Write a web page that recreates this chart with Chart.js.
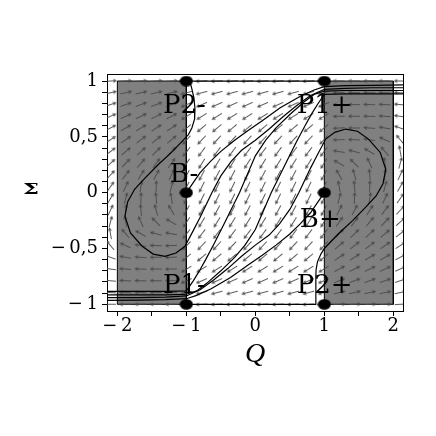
<!DOCTYPE html>
<html>
<head>
<meta charset="utf-8">
<script src="https://cdn.jsdelivr.net/npm/chart.js@4.4.1/dist/chart.umd.min.js"></script>
<style>
  html, body { margin: 0; padding: 0; background: #fff; }
</style>
</head>
<body>
<canvas id="c" width="436" height="436"></canvas>
<script>
// axis ticks and their labels (Maple style: decimal comma, spaced minus)
const xTickValues = [-2, -1.5, -1, -0.5, 0, 0.5, 1, 1.5, 2];
const xTickLabels = ['\u2212\u20092', '', '\u2212\u20091', '', '0', '', '1', '', '2'];
const yTickValues = [-1, -0.9, -0.8, -0.7, -0.6, -0.5, -0.4, -0.3, -0.2, -0.1, 0,
                     0.1, 0.2, 0.3, 0.4, 0.5, 0.6, 0.7, 0.8, 0.9, 1];
const yTickLabels = ['\u2212\u20091', '', '', '', '', '\u2212\u20090,5', '', '', '', '', '0',
                     '', '', '', '', '0,5', '', '', '', '', '1'];

// direction field grid
const fieldQ = [-2.1, -1.879, -1.658, -1.437, -1.216, -0.995, -0.774, -0.553, -0.332, -0.111,
                0.111, 0.332, 0.553, 0.774, 0.995, 1.216, 1.437, 1.658, 1.879, 2.1];
const fieldS = [1, 0.895, 0.789, 0.684, 0.579, 0.474, 0.368, 0.263, 0.158, 0.053,
                -0.053, -0.158, -0.263, -0.368, -0.474, -0.579, -0.684, -0.789, -0.895, -1];
// arrow direction, degrees counter-clockwise from +Q, one row per Σ value
const fieldAngle = [
  [3, 3, 3, 3, 3,        183, 183, 183, 183, 183, 183, 183, 183, 183, 183,   180, 180, 180, 180, 180],
  [12, 12, 12, 13, 14,   195, 195, 195, 195, 195, 195, 195, 195, 195, 195,   180, 179, 178, 178, 177],
  [18, 19, 20, 21, 22,   204, 204, 204, 204, 204, 204, 204, 204, 204, 204,   180, 179, 178, 177, 175],
  [24, 25, 26, 27, 28,   212, 212, 212, 212, 212, 212, 212, 212, 212, 212,   181, 180, 178, 176, 172],
  [28, 30, 31, 33, 34,   220, 220, 220, 220, 220, 220, 220, 220, 220, 220,   183, 180, 176, 170, 160],
  [33, 35, 37, 39, 40,   227, 227, 227, 227, 227, 227, 227, 227, 227, 227,   182, 178, 170, 155, 130],
  [38, 40, 43, 45, 47,   233, 233, 233, 233, 233, 233, 233, 233, 233, 233,   170, 165, 150, 130, 100],
  [42, 46, 50, 53, 55,   238, 238, 238, 238, 238, 238, 238, 238, 238, 238,   150, 135, 115, 100, 75],
  [47, 53, 58, 62, 64,   242, 242, 242, 242, 242, 242, 242, 242, 242, 242,   120, 105, 95, 85, 65],
  [55, 65, 80, 88, 75,   244, 244, 244, 244, 244, 244, 244, 244, 244, 244,   100, 95, 88, 75, 60],
  [60, 75, 88, 95, 100,  244, 244, 244, 244, 244, 244, 244, 244, 244, 244,   75, 88, 80, 65, 55],
  [65, 85, 95, 105, 120, 242, 242, 242, 242, 242, 242, 242, 242, 242, 242,   64, 62, 58, 53, 47],
  [75, 100, 115, 135, 150, 238, 238, 238, 238, 238, 238, 238, 238, 238, 238, 55, 53, 50, 46, 42],
  [100, 130, 150, 165, 170, 233, 233, 233, 233, 233, 233, 233, 233, 233, 233, 47, 45, 43, 40, 38],
  [130, 155, 170, 178, 182, 227, 227, 227, 227, 227, 227, 227, 227, 227, 227, 40, 39, 37, 35, 33],
  [160, 170, 176, 180, 183, 220, 220, 220, 220, 220, 220, 220, 220, 220, 220, 34, 33, 31, 30, 28],
  [172, 176, 178, 180, 181, 212, 212, 212, 212, 212, 212, 212, 212, 212, 212, 28, 27, 26, 25, 24],
  [175, 177, 178, 179, 180, 204, 204, 204, 204, 204, 204, 204, 204, 204, 204, 22, 21, 20, 19, 18],
  [177, 178, 178, 179, 180, 195, 195, 195, 195, 195, 195, 195, 195, 195, 195, 14, 13, 12, 12, 12],
  [180, 180, 180, 180, 180, 183, 183, 183, 183, 183, 183, 183, 183, 183, 183, 3, 3, 3, 3, 3]
];

// shaded regions |Q| > 1
const rectLeftQ = [-2, -2, -1, -1, -2];
const rectLeftS = [-1, 1, 1, -1, -1];
const rectRightQ = [1, 1, 2, 2, 1];
const rectRightS = [-1, 1, 1, -1, -1];

// solution curves
const orbitTopQ = [1, -0.95, -0.92, -0.89, -0.875, -0.88, -0.92, -0.97, -1, -1.2, -1.41, -1.6, -1.75, -1.85, -1.89, -1.81, -1.64, -1.48, -1.31, -1.15, -1.02,
                   -0.9, -0.8, -0.63, -0.5, -0.35, -0.2, 0, 0.2, 0.4, 0.6, 0.8, 1, 1.3, 1.7, 2.15];
const orbitTopS = [1, 1, 0.93, 0.85, 0.75, 0.66, 0.58, 0.52, 0.5, 0.37, 0.25, 0.13, 0.03, -0.08, -0.21, -0.36, -0.48, -0.55, -0.57, -0.54, -0.48,
                   -0.34, -0.22, 0, 0.15, 0.28, 0.38, 0.47, 0.57, 0.68, 0.78, 0.87, 0.925, 0.935, 0.94, 0.94];
const orbitBottomQ = [-1, 0.877, 0.877, 0.88, 0.9, 0.95, 1, 1.2, 1.41, 1.6, 1.75, 1.85, 1.89, 1.81, 1.64, 1.48, 1.31, 1.15, 1.02,
                      0.9, 0.8, 0.63, 0.5, 0.35, 0.2, 0, -0.2, -0.4, -0.6, -0.8, -1, -1.3, -1.7, -2.15];
const orbitBottomS = [-1, -1, -0.75, -0.69, -0.62, -0.55, -0.5, -0.37, -0.25, -0.13, -0.03, 0.08, 0.21, 0.36, 0.48, 0.55, 0.57, 0.54, 0.48,
                      0.34, 0.22, 0, -0.15, -0.28, -0.38, -0.47, -0.57, -0.68, -0.78, -0.87, -0.925, -0.935, -0.94, -0.94];
const c1Q = [-1, -0.9, -0.8, -0.65, -0.5, -0.3, -0.1, 0.1, 0.36, 0.64, 0.85, 1, 1.3, 1.7, 2.15];
const c1S = [0, 0.09, 0.18, 0.28, 0.37, 0.47, 0.56, 0.645, 0.76, 0.86, 0.92, 0.95, 0.958, 0.962, 0.965];
const c1bQ = [1, 0.9, 0.8, 0.65, 0.5, 0.3, 0.1, -0.1, -0.36, -0.64, -0.85, -1, -1.3, -1.7, -2.15];
const c1bS = [0, -0.09, -0.18, -0.28, -0.37, -0.47, -0.56, -0.645, -0.76, -0.86, -0.92, -0.95, -0.958, -0.962, -0.965];
const c3Q = [-2.15, -1.7, -1.3, -1, -0.85, -0.7, -0.5, -0.3, -0.15, 0, 0.23, 0.35, 0.47, 0.6, 0.72, 0.82, 0.9, 1, 1.3, 1.7, 2.15];
const c3S = [-0.915, -0.915, -0.915, -0.91, -0.88, -0.81, -0.7, -0.58, -0.47, -0.33, 0, 0.15, 0.3, 0.46, 0.6, 0.71, 0.79, 0.88, 0.885, 0.885, 0.885];
const c3bQ = [2.15, 1.7, 1.3, 1, 0.85, 0.7, 0.5, 0.3, 0.15, 0, -0.23, -0.35, -0.47, -0.6, -0.72, -0.82, -0.9, -1, -1.3, -1.7, -2.15];
const c3bS = [0.915, 0.915, 0.915, 0.91, 0.88, 0.81, 0.7, 0.58, 0.47, 0.33, 0, -0.15, -0.3, -0.46, -0.6, -0.71, -0.79, -0.88, -0.885, -0.885, -0.885];

// equilibrium points and their names
const eqQ = [-1, -1, -1, 1, 1, 1];
const eqS = [1, 0, -1, 1, 0, -1];
const labelText = ['P2-', 'B-', 'P1-', 'P1+', 'B+', 'P2+'];
const labelQ = [-1.34, -1.24, -1.34, 0.60, 0.645, 0.60];
const labelS = [0.71, 0.095, -0.90, 0.71, -0.31, -0.90];

const toPts = (qs, ss) => qs.map((q, i) => ({ x: q, y: ss[i] }));

// small arrow glyph used as point style
const makeArrow = () => {
    const cv = document.createElement('canvas');
    cv.width = 13; cv.height = 7;
    const g = cv.getContext('2d');
    g.strokeStyle = '#484848';
    g.lineWidth = 0.9;
    g.beginPath();
    g.moveTo(1, 3.5); g.lineTo(12.3, 3.5);
    g.moveTo(12.3, 3.5); g.lineTo(9.3, 1.9);
    g.moveTo(12.3, 3.5); g.lineTo(9.3, 5.1);
    g.stroke();
    return cv;
};

const makeDot = () => {
    const cv = document.createElement('canvas');
    cv.width = 14; cv.height = 11;
    const g = cv.getContext('2d');
    g.fillStyle = '#000';
    g.beginPath();
    g.ellipse(7, 5.5, 6.6, 5.2, 0, 0, Math.PI * 2);
    g.fill();
    return cv;
};

const arrowPts = [];
fieldS.forEach((s, j) => fieldQ.forEach((q, i) => arrowPts.push({ x: q, y: s, a: fieldAngle[j][i] })));

const curve = (qs, ss) => ({
    data: toPts(qs, ss),
    showLine: true,
    borderColor: '#000',
    borderWidth: 1.2,
    pointRadius: 0,
    fill: false,
    order: 1,
});

const rect = (qs, ss) => ({
    data: toPts(qs, ss),
    showLine: true,
    borderColor: '#000',
    borderWidth: 1,
    backgroundColor: '#808080',
    pointRadius: 0,
    fill: 'shape',
    order: 3,
});

// point names and the Σ axis name
const textPlugin = {
    id: 'texts',
    afterDraw(chart) {
        const { ctx, scales: { x, y } } = chart;
        ctx.save();
        ctx.fillStyle = '#000';
        ctx.font = '26px "DejaVu Serif"';
        ctx.textBaseline = 'alphabetic';
        ctx.textAlign = 'left';
        labelText.forEach((t, i) => {
            ctx.fillText(t, x.getPixelForValue(labelQ[i]), y.getPixelForValue(labelS[i]));
        });

        ctx.font = 'bold 15px "DejaVu Serif"';
        ctx.textAlign = 'center';
        ctx.textBaseline = 'middle';
        ctx.translate(31, y.getPixelForValue(0) - 3);
        ctx.scale(1.5, 1);
        ctx.fillText('\u03A3', 0, 0);
        ctx.restore();
    }
};

const axisBase = {
    type: 'linear',
    bounds: 'data',
    grid: { drawOnChartArea: false, drawTicks: true, tickLength: 5, color: '#000', lineWidth: 1 },
    border: { display: true, color: '#000', width: 1 },
};

new Chart(document.getElementById('c'), {
    type: 'scatter',
    data: {
        datasets: [
            {
                data: toPts(eqQ, eqS),
                pointStyle: makeDot(),
                pointRadius: 6,
                order: 0,
            },
            curve(orbitTopQ, orbitTopS),
            curve(orbitBottomQ, orbitBottomS),
            curve(c1Q, c1S),
            curve(c1bQ, c1bS),
            curve(c3Q, c3S),
            curve(c3bQ, c3bS),
            {
                data: arrowPts,
                pointStyle: makeArrow(),
                pointRadius: 6,
                rotation: (ctx) => -(ctx.raw ? ctx.raw.a : 0),
                order: 2,
            },
            rect(rectLeftQ, rectLeftS),
            rect(rectRightQ, rectRightS),
        ]
    },
    options: {
        responsive: false,
        animation: false,
        devicePixelRatio: 1,
        events: [],
        layout: { padding: { left: 0, right: 33, top: 74, bottom: 0 } },
        plugins: { legend: { display: false }, tooltip: { enabled: false } },
        scales: {
            x: {
                ...axisBase,
                position: 'bottom',
                min: -2.15, max: 2.14,
                afterBuildTicks: (s) => { s.ticks = xTickValues.map((v) => ({ value: v })); },
                ticks: {
                    autoSkip: false, maxRotation: 0, padding: 0,
                    color: '#000', font: { family: 'DejaVu Serif', size: 18 },
                    callback: (v, i) => xTickLabels[i],
                },
                title: {
                    display: true, text: 'Q', color: '#000',
                    font: { family: 'Liberation Serif', style: 'italic', size: 28 },
                    padding: { top: 0, bottom: 65 },
                },
                afterFit: (s) => { s.height = 125; },
            },
            y: {
                ...axisBase,
                position: 'left',
                min: -1.06, max: 1.063,
                afterBuildTicks: (s) => { s.ticks = yTickValues.map((v) => ({ value: v })); },
                ticks: {
                    autoSkip: false, padding: 4,
                    color: '#000', font: { family: 'DejaVu Serif', size: 18 },
                    callback: (v, i) => yTickLabels[i],
                },
                afterFit: (s) => { s.width = 107; },
            },
            x2: {
                ...axisBase,
                position: 'top',
                min: -2.15, max: 2.14,
                grid: { display: false },
                ticks: { display: false },
                afterFit: (s) => { s.height = 0; },
            },
            y2: {
                ...axisBase,
                position: 'right',
                min: -1.06, max: 1.063,
                grid: { display: false },
                ticks: { display: false },
                afterFit: (s) => { s.width = 0; },
            },
        }
    },
    plugins: [textPlugin],
});
</script>
</body>
</html>
